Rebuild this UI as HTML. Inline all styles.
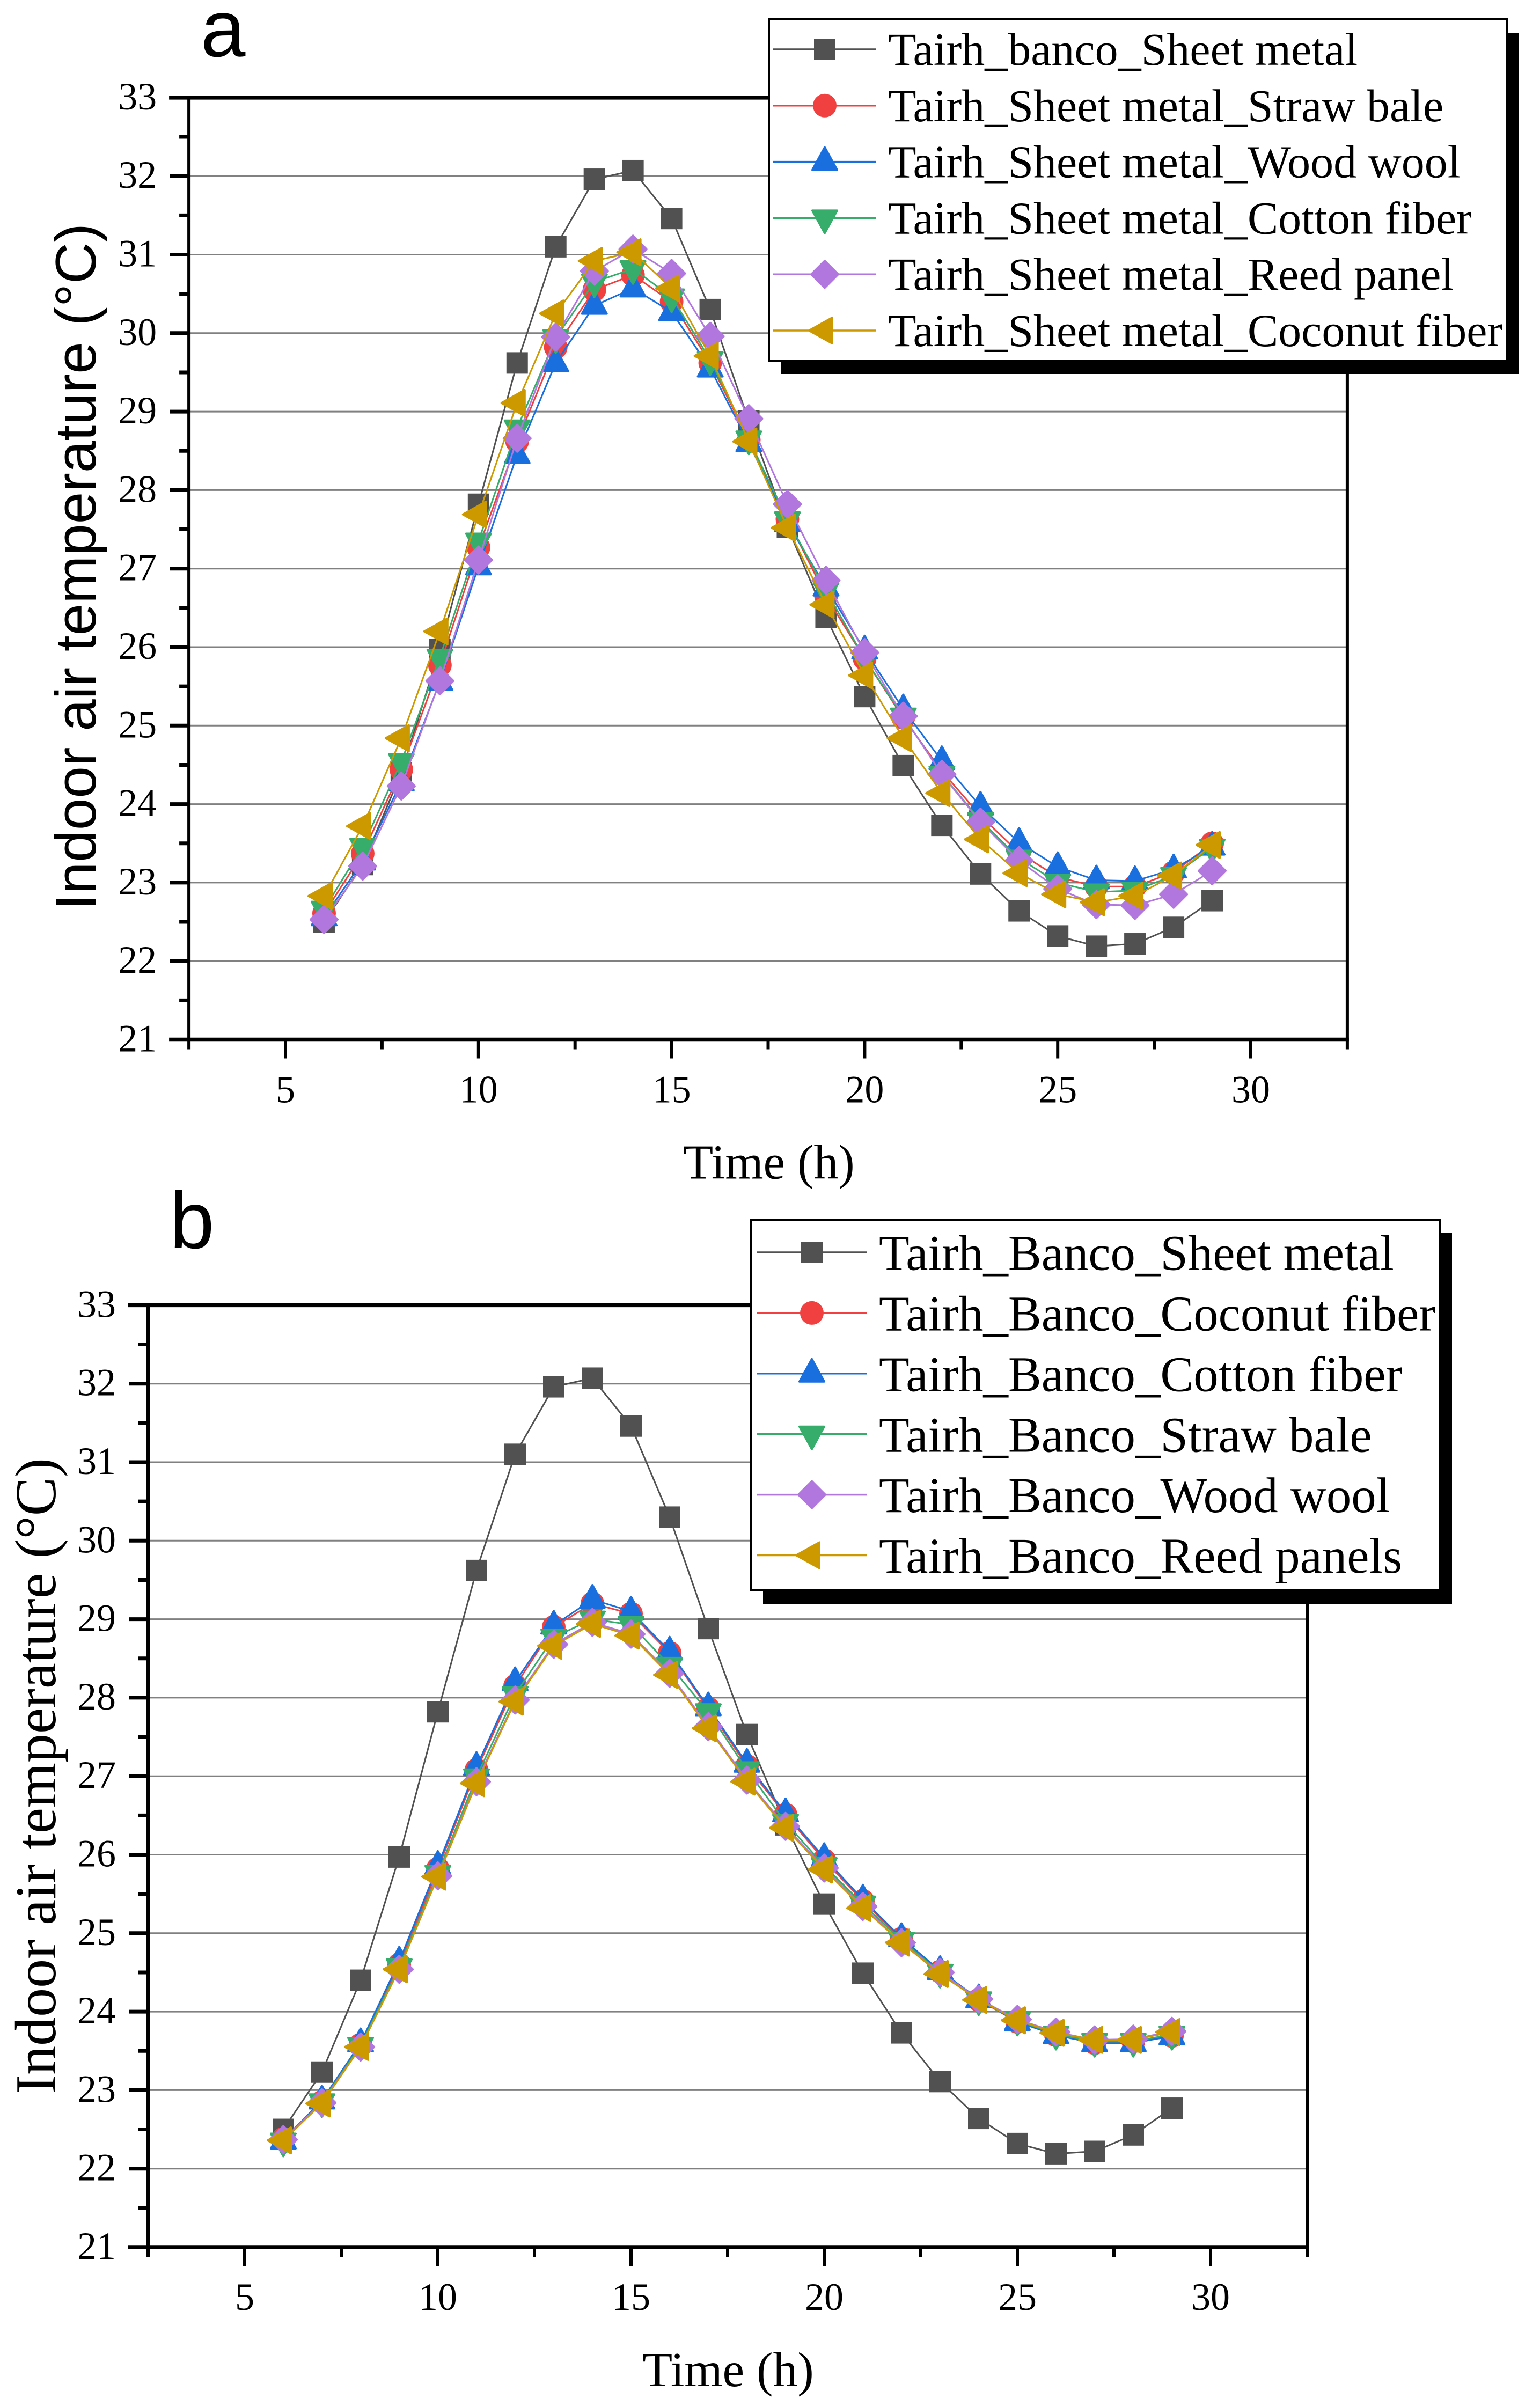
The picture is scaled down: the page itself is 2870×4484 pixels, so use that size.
<!DOCTYPE html>
<html lang="en">
<head>
<meta charset="utf-8">
<title>Indoor air temperature charts</title>
<style>
html,body{margin:0;padding:0;background:#fff;}
svg{display:block;}
text{font-family:"Liberation Serif",serif;fill:#000;}
.sans{font-family:"Liberation Sans",sans-serif;}
</style>
</head>
<body>
<svg id="figure" xmlns="http://www.w3.org/2000/svg" width="2870" height="4484" viewBox="0 0 2870 4484"></svg>
<script>
const hours = [6,7,8,9,10,11,12,13,14,15,16,17,18,19,20,21,22,23,24,25,26,27,28,29];
const xTickValues = [5,10,15,20,25,30];
const yTickValues = [21,22,23,24,25,26,27,28,29,30,31,32,33];

const baseSheetMetal = [22.50,23.23,24.40,25.97,27.82,29.62,31.10,31.96,32.07,31.46,30.30,28.88,27.53,26.38,25.37,24.49,23.73,23.11,22.64,22.32,22.19,22.22,22.43,22.77];

const aStrawBale = [22.61,23.37,24.44,25.77,27.27,28.62,29.82,30.55,30.74,30.40,29.62,28.64,27.63,26.65,25.85,25.10,24.42,23.85,23.38,23.07,22.95,22.95,23.13,23.50];
const aWoodWool = [22.56,23.27,24.28,25.56,27.03,28.45,29.62,30.35,30.57,30.27,29.55,28.60,27.58,26.76,25.96,25.21,24.55,23.97,23.51,23.20,23.03,23.02,23.17,23.46];
const aCottonFiber = [22.66,23.46,24.54,25.87,27.35,28.79,29.94,30.65,30.82,30.46,29.66,28.65,27.62,26.72,25.85,25.12,24.38,23.79,23.31,23.00,22.88,22.90,23.09,23.45];
const aReedPanel = [22.53,23.21,24.23,25.57,27.11,28.66,29.95,30.79,31.07,30.76,29.96,28.91,27.82,26.85,25.93,25.12,24.38,23.77,23.28,22.92,22.72,22.71,22.85,23.15];
const aCoconutFiber = [22.83,23.72,24.84,26.20,27.69,29.11,30.25,30.92,31.03,30.57,29.71,28.62,27.52,26.54,25.64,24.84,24.14,23.55,23.12,22.85,22.75,22.83,23.09,23.48];

const bCoconutFiber = [22.38,22.85,23.58,24.60,25.82,27.08,28.15,28.90,29.20,29.07,28.57,27.86,27.13,26.51,25.93,25.41,24.93,24.51,24.15,23.87,23.70,23.60,23.62,23.69];
const bCottonFiber = [22.36,22.87,23.60,24.64,25.86,27.12,28.20,28.92,29.25,29.10,28.59,27.88,27.16,26.53,25.96,25.43,24.94,24.52,24.16,23.87,23.70,23.60,23.60,23.69];
const bStrawBale = [22.35,22.85,23.57,24.57,25.76,26.99,28.04,28.77,29.00,28.93,28.41,27.82,27.08,26.41,25.86,25.37,24.91,24.50,24.15,23.89,23.71,23.62,23.62,23.71];
const bWoodWool = [22.37,22.84,23.55,24.54,25.73,26.93,27.97,28.68,28.96,28.81,28.31,27.63,26.95,26.36,25.83,25.34,24.88,24.50,24.16,23.90,23.74,23.64,23.65,23.75];
const bReedPanels = [22.36,22.83,23.55,24.54,25.72,26.91,27.95,28.66,28.94,28.79,28.29,27.61,26.93,26.34,25.81,25.32,24.88,24.48,24.15,23.89,23.73,23.64,23.64,23.74];

const panelASeries = [baseSheetMetal,aStrawBale,aWoodWool,aCottonFiber,aReedPanel,aCoconutFiber];
const panelBSeries = [baseSheetMetal,bCoconutFiber,bCottonFiber,bStrawBale,bWoodWool,bReedPanels];
const panelALabels = ["Tairh_banco_Sheet metal","Tairh_Sheet metal_Straw bale","Tairh_Sheet metal_Wood wool","Tairh_Sheet metal_Cotton fiber","Tairh_Sheet metal_Reed panel","Tairh_Sheet metal_Coconut fiber"];
const panelBLabels = ["Tairh_Banco_Sheet metal","Tairh_Banco_Coconut fiber","Tairh_Banco_Cotton fiber","Tairh_Banco_Straw bale","Tairh_Banco_Wood wool","Tairh_Banco_Reed panels"];

const seriesColors = ["#515151","#F14040","#1A6FDF","#37AD6B","#B177DE","#CC9900"];
const seriesShapes = ["square","circle","up","down","diamond","left"];

const SVGNS = "http://www.w3.org/2000/svg";
const fig = document.getElementById("figure");

function make(parent, tag, attrs, txt){
  const el = document.createElementNS(SVGNS, tag);
  for (const k in attrs) el.setAttribute(k, attrs[k]);
  if (txt !== undefined) el.textContent = txt;
  parent.appendChild(el);
  return el;
}

function markerPoints(shape, x, y){
  const pts = {
    up:[[0,-27],[23,15],[-23,15]],
    down:[[0,28],[23,-14],[-23,-14]],
    left:[[-29,0],[14,-24],[14,24]],
    diamond:[[0,-25],[25,0],[0,25],[-25,0]]
  }[shape];
  return pts.map(p => (x+p[0]).toFixed(1)+","+(y+p[1]).toFixed(1)).join(" ");
}

function drawMarker(parent, shape, color, x, y, name){
  let el;
  if (shape === "square") {
    el = make(parent, "rect", {x:x-20, y:y-20, width:40, height:40, fill:color});
  } else if (shape === "circle") {
    el = make(parent, "circle", {cx:x, cy:y, r:22, fill:color});
  } else {
    el = make(parent, "polygon", {points:markerPoints(shape,x,y), fill:color, stroke:color, "stroke-width":4, "stroke-linejoin":"round"});
  }
  
  
  return el;
}

function linePath(pts){
  return pts.map((p, i) => (i ? "L" : "M")+p[0].toFixed(1)+" "+p[1].toFixed(1)).join("");
}

function drawPanel(cfg){
  const g = make(fig, "g", {});
  
  

  const xScale = h => cfg.x5 + cfg.xUnit*(h-5);
  const yScale = v => cfg.y21 - cfg.yUnit*(v-21);
  const left = xScale(2.5), right = xScale(32.5), top = yScale(33), bottom = yScale(21);

  // gridlines
  for (const v of yTickValues){
    if (v === 21 || v === 33) continue;
    const gl = make(g, "line", {x1:left, x2:right, y1:yScale(v), y2:yScale(v), stroke:"#808080", "stroke-width":3});
    
    
  }

  // series
  cfg.series.forEach((vals, i) => {
    const sg = make(g, "g", {});
    
    
    const pts = vals.map((v, k) => [xScale(hours[k]), yScale(v)]);
    const ln = make(sg, "path", {d:linePath(pts), fill:"none", stroke:seriesColors[i], "stroke-width":3, "stroke-linejoin":"round"});
    
    
    pts.forEach((p, k) => drawMarker(sg, seriesShapes[i], seriesColors[i], p[0], p[1], 'point-h'+hours[k]));
  });

  // axes frame
  const axT = make(g, "line", {x1:left-37, x2:right+3, y1:top, y2:top, stroke:"#000", "stroke-width":7.5});
  
  
  const axB = make(g, "line", {x1:left-37, x2:right+3, y1:bottom, y2:bottom, stroke:"#000", "stroke-width":7.5});
  
  
  const axL = make(g, "line", {x1:left, x2:left, y1:top, y2:bottom, stroke:"#000", "stroke-width":6});
  
  
  const axR = make(g, "line", {x1:right, x2:right, y1:top, y2:bottom, stroke:"#000", "stroke-width":6});
  
  

  // y ticks
  yTickValues.forEach(v => {
    const t = make(g, "line", {x1:left-36, x2:left, y1:yScale(v), y2:yScale(v), stroke:"#000", "stroke-width":7});
    
    
    if (v < 33) {
      const m = make(g, "line", {x1:left-18, x2:left, y1:yScale(v+0.5), y2:yScale(v+0.5), stroke:"#000", "stroke-width":7});
      
      
    }
    const lb = make(g, "text", {x:left-60, y:yScale(v)+22, "text-anchor":"end", "font-size":72}, String(v));
    
    
  });

  // x ticks
  xTickValues.forEach(h => {
    const t = make(g, "line", {x1:xScale(h), x2:xScale(h), y1:bottom, y2:bottom+35, stroke:"#000", "stroke-width":6});
    
    
    const lb = make(g, "text", {x:xScale(h), y:bottom+117, "text-anchor":"middle", "font-size":72}, String(h));
    
    
  });
  [2.5,7.5,12.5,17.5,22.5,27.5,32.5].forEach(h => {
    const m = make(g, "line", {x1:xScale(h), x2:xScale(h), y1:bottom, y2:bottom+18, stroke:"#000", "stroke-width":6});
    
    
  });

  // titles
  const xt = make(g, "text", {x:cfg.xTitleX, y:bottom+259, "text-anchor":"middle", "font-size":91.5}, "Time (h)");
  
  
  const yt = make(g, "text", {transform:"translate("+cfg.yTitleX+" "+cfg.yTitleY+") rotate(-90)", "text-anchor":"middle", "font-size":cfg.yTitleSize, class:cfg.yTitleClass}, "Indoor air temperature (\u00B0C)");
  
  
  const pl = make(g, "text", {x:cfg.letterX, y:cfg.letterY, "font-size":150, class:"sans"}, cfg.letter);
  
  

  // legend
  const L = cfg.legend;
  const lg = make(g, "g", {});
  
  
  const sh = make(lg, "rect", {x:L.x+L.sx, y:L.y+L.sy, width:L.w, height:L.h, fill:"#000"});
  
  
  const bx = make(lg, "rect", {x:L.x, y:L.y, width:L.w, height:L.h, fill:"#fff", stroke:"#000", "stroke-width":4});
  
  
  cfg.labels.forEach((label, i) => {
    const ey = L.lineY + L.step*i;
    const en = make(lg, "g", {});
    
    
    const sl = make(en, "line", {x1:L.lineX1, x2:L.lineX2, y1:ey, y2:ey, stroke:seriesColors[i], "stroke-width":3.5});
    
    
    drawMarker(en, seriesShapes[i], seriesColors[i], (L.lineX1+L.lineX2)/2, ey, 'legend-marker');
    const tx = make(en, "text", {x:L.textX, y:L.textY + L.step*i, "font-size":L.font}, label);
    
    
  });
}

drawPanel({
  id:"panel-a", letter:"a", letterX:374, letterY:105,
  x5:532, xUnit:71.96, y21:1937.5, yUnit:146.3,
  xTitleX:1433, yTitleX:178, yTitleY:1056, yTitleSize:107, yTitleClass:"sans",
  series:panelASeries, labels:panelALabels,
  legend:{x:1433,y:36,w:1375,h:636,sx:22,sy:25,lineX1:1441,lineX2:1633,lineY:92,step:104.8,textX:1655,textY:121,font:86}
});
drawPanel({
  id:"panel-b", letter:"b", letterX:316, letterY:2326,
  x5:456, xUnit:72, y21:4188, yUnit:146.3,
  xTitleX:1357, yTitleX:103, yTitleY:3310, yTitleSize:108, yTitleClass:"",
  series:panelBSeries, labels:panelBLabels,
  legend:{x:1399,y:2273,w:1284,h:691,sx:23,sy:25,lineX1:1410,lineX2:1616,lineY:2334,step:112.9,textX:1638,textY:2366.6,font:92.8}
});
</script>
</body>
</html>
